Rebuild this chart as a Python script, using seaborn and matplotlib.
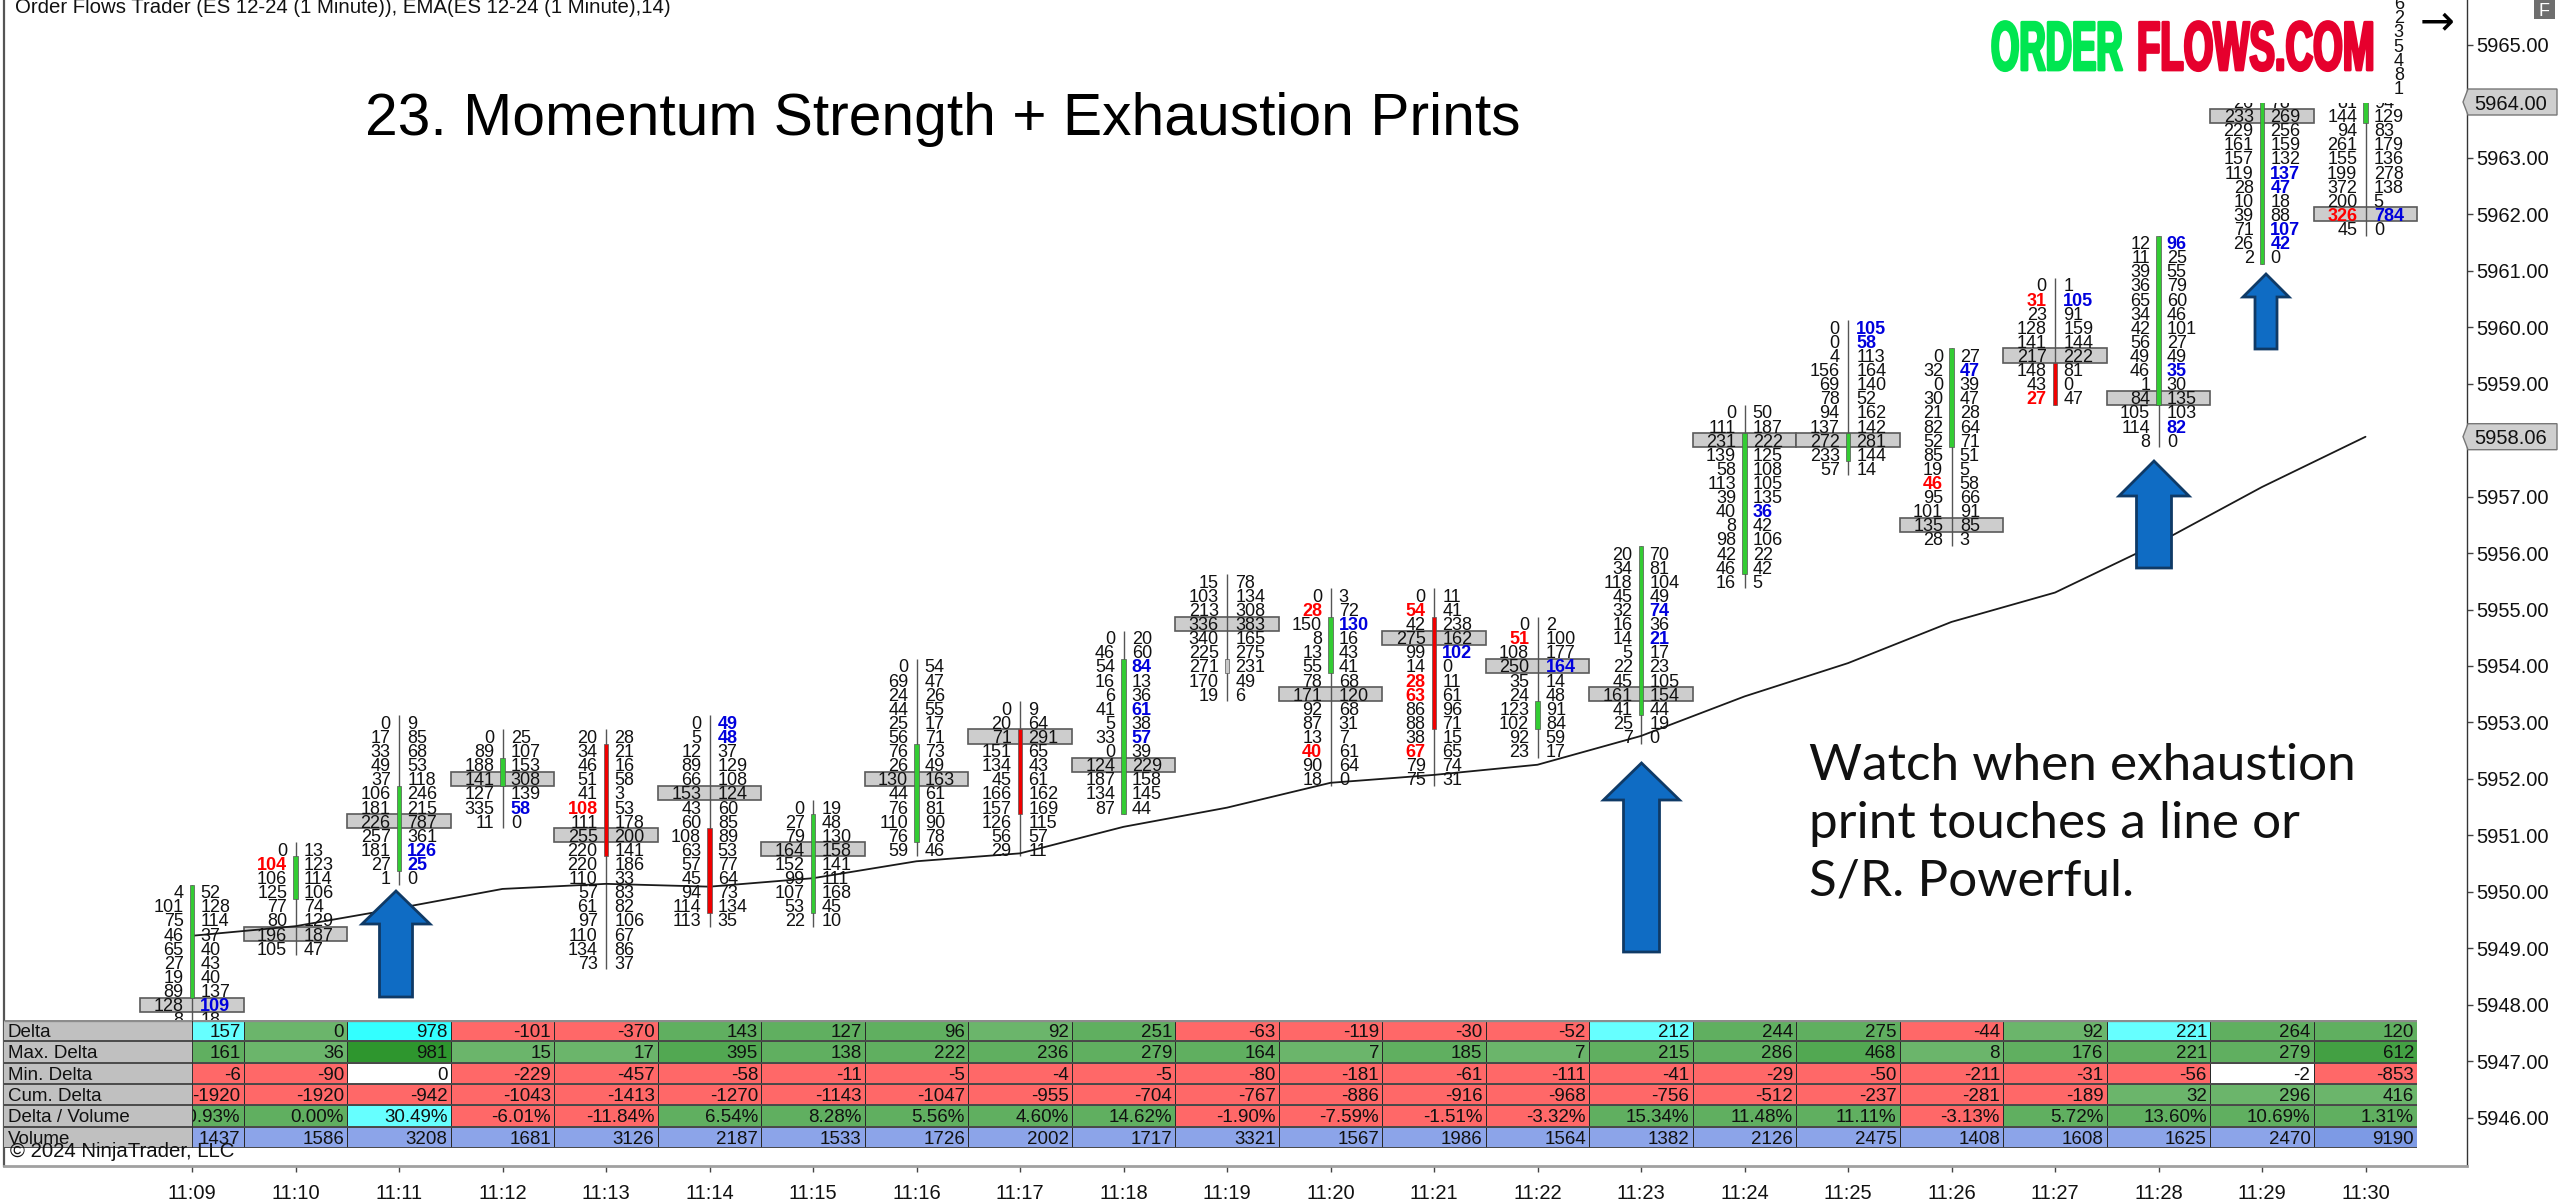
import matplotlib
matplotlib.use("Agg")
import numpy as np
import pandas as pd
import seaborn as sns
import matplotlib.pyplot as plt
from matplotlib.colors import ListedColormap
from matplotlib.patches import Polygon, Rectangle
from matplotlib.patheffects import AbstractPathEffect
from matplotlib.transforms import Affine2D

W, H = 2560, 1204

times = ["11:09", "11:10", "11:11", "11:12", "11:13", "11:14", "11:15", "11:16", "11:17", "11:18", "11:19",
         "11:20", "11:21", "11:22", "11:23", "11:24", "11:25", "11:26", "11:27", "11:28", "11:29", "11:30"]

ema = [5949.22, 5949.39, 5949.71, 5950.05, 5950.14, 5950.09, 5950.24, 5950.54, 5950.68, 5951.15, 5951.49,
       5951.93, 5952.07, 5952.25, 5952.76, 5953.46, 5954.05, 5954.78, 5955.30, 5956.18, 5957.17, 5958.06]

# price of the first row of each footprint column
bar_tops = [5950.0, 5950.75, 5953.0, 5952.75, 5952.75, 5953.0, 5951.5, 5954.0, 5953.25, 5954.5, 5955.5,
            5955.25, 5955.25, 5954.75, 5956.0, 5958.5, 5960.0, 5959.5, 5960.75, 5961.5, 5964.0, 5964.0]

bid_rows = [
    [4, 101, 75, 46, 65, 27, 19, 89, 128, 8],
    [0, 104, 106, 125, 77, 80, 196, 105],
    [0, 17, 33, 49, 37, 106, 181, 226, 257, 181, 27, 1],
    [0, 89, 188, 141, 127, 335, 11],
    [20, 34, 46, 51, 41, 108, 111, 255, 220, 220, 110, 57, 61, 97, 110, 134, 73],
    [0, 5, 12, 89, 66, 153, 43, 60, 108, 63, 57, 45, 94, 114, 113],
    [0, 27, 79, 164, 152, 99, 107, 53, 22],
    [0, 69, 24, 44, 25, 56, 76, 26, 130, 44, 76, 110, 76, 59],
    [0, 20, 71, 151, 134, 45, 166, 157, 126, 56, 29],
    [0, 46, 54, 16, 6, 41, 5, 33, 0, 124, 187, 134, 87],
    [15, 103, 213, 336, 340, 225, 271, 170, 19],
    [0, 28, 150, 8, 13, 55, 78, 171, 92, 87, 13, 40, 90, 18],
    [0, 54, 42, 275, 99, 14, 28, 63, 86, 88, 38, 67, 79, 75],
    [0, 51, 108, 250, 35, 24, 123, 102, 92, 23],
    [20, 34, 118, 45, 32, 16, 14, 5, 22, 45, 161, 41, 25, 7],
    [0, 111, 231, 139, 58, 113, 39, 40, 8, 98, 42, 46, 16],
    [0, 0, 4, 156, 69, 78, 94, 137, 272, 233, 57],
    [0, 32, 0, 30, 21, 82, 52, 85, 19, 46, 95, 101, 135, 28],
    [0, 31, 23, 128, 141, 217, 148, 43, 27],
    [12, 11, 39, 36, 65, 34, 42, 56, 49, 46, 1, 84, 105, 114, 8],
    [26, 233, 229, 161, 157, 119, 28, 10, 39, 71, 26, 2],
    [81, 144, 94, 261, 155, 199, 372, 200, 326, 45],
]
ask_rows = [
    [52, 128, 114, 37, 40, 43, 40, 137, 109, 18],
    [13, 123, 114, 106, 74, 129, 187, 47],
    [9, 85, 68, 53, 118, 246, 215, 787, 361, 126, 25, 0],
    [25, 107, 153, 308, 139, 58, 0],
    [28, 21, 16, 58, 3, 53, 178, 200, 141, 186, 33, 83, 82, 106, 67, 86, 37],
    [49, 48, 37, 129, 108, 124, 60, 85, 89, 53, 77, 64, 73, 134, 35],
    [19, 48, 130, 158, 141, 111, 168, 45, 10],
    [54, 47, 26, 55, 17, 71, 73, 49, 163, 61, 81, 90, 78, 46],
    [9, 64, 291, 65, 43, 61, 162, 169, 115, 57, 11],
    [20, 60, 84, 13, 36, 61, 38, 57, 39, 229, 158, 145, 44],
    [78, 134, 308, 383, 165, 275, 231, 49, 6],
    [3, 72, 130, 16, 43, 41, 68, 120, 68, 31, 7, 61, 64, 0],
    [11, 41, 238, 162, 102, 0, 11, 61, 96, 71, 15, 65, 74, 31],
    [2, 100, 177, 164, 14, 48, 91, 84, 59, 17],
    [70, 81, 104, 49, 74, 36, 21, 17, 23, 105, 154, 44, 19, 0],
    [50, 187, 222, 125, 108, 105, 135, 36, 42, 106, 22, 42, 5],
    [105, 58, 113, 164, 140, 52, 162, 142, 281, 144, 14],
    [27, 47, 39, 47, 28, 64, 71, 51, 5, 58, 66, 91, 85, 3],
    [1, 105, 91, 159, 144, 222, 81, 0, 47],
    [96, 25, 55, 79, 60, 46, 101, 27, 49, 35, 30, 135, 103, 82, 0],
    [78, 269, 256, 159, 132, 137, 47, 18, 88, 107, 42, 0],
    [94, 129, 83, 179, 136, 278, 138, 5, 784, 0],
]
poc_index = [8, 6, 7, 3, 7, 5, 3, 8, 2, 9, 3, 7, 3, 3, 10, 2, 8, 12, 5, 11, 1, 8]

# row indexes printed bold
red_marks = [[], [1], [], [], [5], [], [], [], [], [], [], [1, 11], [1, 6, 7, 11], [1], [], [], [], [9], [1, 8], [], [], [8]]
blue_marks = [[8], [], [9, 10], [5], [], [0, 1], [], [], [], [2, 5, 7], [], [2], [4], [3], [4, 6], [7], [0, 1], [1], [1], [0, 9, 13],
              [5, 6, 9, 10], [8]]

body_high = [5950.0, 5950.5, 5951.75, 5952.25, 5952.5, 5951.0, 5951.25, 5952.5, 5952.75, 5954.0, 5954.0,
             5954.75, 5954.75, 5953.25, 5956.0, 5958.0, 5958.0, 5959.5, 5959.25, 5961.5, 5964.0, 5964.25]
body_low = [5948.25, 5950.0, 5950.5, 5952.0, 5950.75, 5949.75, 5949.75, 5951.0, 5951.5, 5951.5, 5954.0,
            5954.0, 5953.0, 5953.0, 5953.25, 5955.75, 5957.75, 5958.0, 5958.75, 5958.75, 5961.25, 5963.75]
body_kind = ["g", "g", "g", "g", "r", "r", "g", "g", "r", "g", "n", "g", "r", "g", "g", "g", "g", "g", "r", "g", "g", "g"]

# last digits of the column that runs under the logo
clipped_digits = ["1", "8", "4", "5", "3", "2", "6"]
clipped_prices = [5964.25, 5964.5, 5964.75, 5965.0, 5965.25, 5965.5, 5965.75]

row_names = ["Delta", "Max. Delta", "Min. Delta", "Cum. Delta", "Delta / Volume", "Volume"]
delta = [157, 0, 978, -101, -370, 143, 127, 96, 92, 251, -63, -119, -30, -52, 212, 244, 275, -44, 92, 221, 264, 120]
max_delta = [161, 36, 981, 15, 17, 395, 138, 222, 236, 279, 164, 7, 185, 7, 215, 286, 468, 8, 176, 221, 279, 612]
min_delta = [-6, -90, 0, -229, -457, -58, -11, -5, -4, -5, -80, -181, -61, -111, -41, -29, -50, -211, -31, -56, -2, -853]
cum_delta = [-1920, -1920, -942, -1043, -1413, -1270, -1143, -1047, -955, -704, -767, -886, -916, -968, -756, -512, -237,
             -281, -189, 32, 296, 416]
delta_volume = [10.93, 0.00, 30.49, -6.01, -11.84, 6.54, 8.28, 5.56, 4.60, 14.62, -1.90, -7.59, -1.51, -3.32, 15.34,
                11.48, 11.11, -3.13, 5.72, 13.60, 10.69, 1.31]
volume = [1437, 1586, 3208, 1681, 3126, 2187, 1533, 1726, 2002, 1717, 3321, 1567, 1986, 1564, 1382, 2126, 2475, 1408,
          1608, 1625, 2470, 9190]

cell_palette = ["#FFFFFF", "#FF6868", "#6BB56B", "#60AF60", "#52A852", "#43A043", "#2E962E", "#66FFFF", "#33FFFF",
                "#8CA4E9", "#7D9AE5"]
delta_shade = [7, 2, 8, 1, 1, 3, 3, 3, 2, 3, 1, 1, 1, 1, 7, 3, 3, 1, 2, 7, 3, 3]
max_shade = [3, 2, 6, 2, 2, 4, 3, 3, 3, 3, 3, 2, 3, 2, 3, 3, 4, 2, 3, 3, 3, 5]
min_shade = [1, 1, 0, 1, 1, 1, 1, 1, 1, 1, 1, 1, 1, 1, 1, 1, 1, 1, 1, 1, 0, 1]
cum_shade = [1, 1, 1, 1, 1, 1, 1, 1, 1, 1, 1, 1, 1, 1, 1, 1, 1, 1, 1, 2, 2, 2]
dv_shade = [3, 3, 7, 1, 1, 3, 3, 3, 3, 3, 1, 1, 1, 1, 3, 3, 3, 1, 3, 3, 3, 3]
volume_shade = [9, 9, 9, 9, 9, 9, 9, 9, 9, 9, 9, 9, 9, 9, 9, 9, 9, 9, 9, 9, 9, 10]

y_ticks = [5946, 5947, 5948, 5949, 5950, 5951, 5952, 5953, 5954, 5955, 5956, 5957, 5959, 5960, 5961, 5962, 5963, 5965]


class Squeeze(AbstractPathEffect):
    # keeps the text real but draws it narrower, like the pasted logo
    def __init__(self, sx, sy, stroke):
        super().__init__()
        self.sx, self.sy, self.stroke = sx, sy, stroke

    def draw_path(self, renderer, gc, tpath, affine, rgbFace=None):
        gc0 = renderer.new_gc()
        gc0.copy_properties(gc)
        gc0.set_linewidth(self.stroke)
        renderer.draw_path(gc0, tpath, Affine2D().scale(self.sx, self.sy) + affine, rgbFace)
        gc0.restore()


sns.set_theme(style="white")
plt.rcParams["font.family"] = ["Liberation Sans", "DejaVu Sans"]

fig = plt.figure(figsize=(W / 100, H / 100), dpi=100, facecolor="white")
pix = Affine2D().scale(1, -1).translate(0, H)

# main price panel
ax = fig.add_axes([4 / W, (H - 1166) / H, (2467 - 4) / W, 1166 / H], facecolor="white")
ax.set_xlim((4 - 192) / 103.5, (2467 - 192) / 103.5)
ax.set_ylim(5965 - (1166 - 45) / 56.45, 5965 + 45 / 56.45)

for i in range(len(times)):
    n = len(bid_rows[i])
    prices = [bar_tops[i] - 0.25 * k for k in range(n)]
    ax.vlines(i, prices[-1] - 0.125, prices[0] + 0.125, color="#555555", lw=1, zorder=2)
    poc = prices[poc_index[i]]
    ax.add_patch(Rectangle((i - 0.5, poc - 0.125), 1, 0.25, facecolor="#CDCDCD", edgecolor="#5A5A5A", lw=1.2, zorder=1))
    for k in range(n):
        bid_bold, ask_bold = k in red_marks[i], k in blue_marks[i]
        ax.text(i - 0.08, prices[k], str(bid_rows[i][k]), ha="right", va="center_baseline", fontsize=13,
                color="#FF0000" if bid_bold else "#111111", fontweight="bold" if bid_bold else "normal", zorder=4, clip_on=True)
        ax.text(i + 0.08, prices[k], str(ask_rows[i][k]), ha="left", va="center_baseline", fontsize=13,
                color="#0000DD" if ask_bold else "#111111", fontweight="bold" if ask_bold else "normal", zorder=4, clip_on=True)

kind_colors = {"g": "#33CC33", "r": "#F00000", "n": "#C8C8C8"}
ax.bar(range(len(times)), np.array(body_high) - np.array(body_low) + 0.25, bottom=np.array(body_low) - 0.125, width=0.04,
       color=[kind_colors[k] for k in body_kind], edgecolor="#555555", linewidth=0.5, zorder=3)

for digit, price in zip(clipped_digits, clipped_prices):
    ax.text(21 + 0.37, price, digit, ha="right", va="center_baseline", fontsize=13, color="#111111", zorder=4, clip_on=True)

ema_frame = pd.DataFrame({"bar": range(len(times)), "ema": ema})
sns.lineplot(data=ema_frame, x="bar", y="ema", color="#1A1A1A", linewidth=1.3, ax=ax, zorder=2.5)

ax.set_xlabel("")
ax.set_ylabel("")
ax.set_xticks(range(len(times)))
ax.set_xticklabels(times, color="#111111")
ax.yaxis.tick_right()
ax.set_yticks(y_ticks)
ax.set_yticklabels(["%.2f" % v for v in y_ticks], color="#111111")
ax.tick_params(axis="x", bottom=True, length=4, width=1, color="#444444", pad=9, labelsize=14.5)
ax.tick_params(axis="y", right=True, length=4, width=1, color="#444444", pad=3, labelsize=14.5)
ax.spines["top"].set_visible(False)
ax.spines["left"].set_color("#555555")
ax.spines["left"].set_linewidth(1.6)
ax.spines["right"].set_color("#333333")
ax.spines["right"].set_linewidth(1)
ax.spines["bottom"].set_color("#A0A0A0")
ax.spines["bottom"].set_linewidth(2)

# indicator table under the chart
tab = fig.add_axes([4 / W, (H - 1148) / H, (2417 - 4) / W, 128 / H])
shades = np.array([delta_shade, max_shade, min_shade, cum_shade, dv_shade, volume_shade])
sns.heatmap(shades, cmap=ListedColormap(cell_palette), vmin=0, vmax=len(cell_palette) - 1, cbar=False, linewidths=0.7,
            linecolor="#2A2A2A", xticklabels=False, yticklabels=False, ax=tab)
tab.set_xlim((4 - 140.25) / 103.5, 22)
tab.set_ylim(6, 0)

row_texts = [[str(v) for v in delta], [str(v) for v in max_delta], [str(v) for v in min_delta], [str(v) for v in cum_delta],
             ["%.2f%%" % v for v in delta_volume], [str(v) for v in volume]]
for r, texts in enumerate(row_texts):
    for c, label in enumerate(texts):
        tab.text(c + 0.97, r + 0.5, label, ha="right", va="center_baseline", fontsize=13.5, color="#111111", zorder=4, clip_on=True)

tab.add_patch(Rectangle(((4 - 140.25) / 103.5, 0), (192 - 4) / 103.5, 6, facecolor="#C0C0C0", edgecolor="none", zorder=5))
for r, name in enumerate(row_names):
    tab.text((8 - 140.25) / 103.5, r + 0.5, name, ha="left", va="center_baseline", fontsize=13.5, color="#111111", zorder=6)
tab.hlines(range(0, 7), (4 - 140.25) / 103.5, 22, color="#4A4A4A", lw=1.4, zorder=7)
tab.hlines(0, (4 - 140.25) / 103.5, 22, color="#8C8C8C", lw=2.4, zorder=7)
tab.vlines(0.5, 0, 6, color="#333333", lw=0.7, zorder=7)

# white patch of the pasted logo hides the top of the last columns
fig.add_artist(Rectangle((1900, 0), 493, 103, transform=pix, facecolor="white", edgecolor="none", zorder=10))
fig.text(1991, 70, "ORDER", transform=pix, fontsize=50, fontweight="bold", color="#00E650", ha="left", va="baseline", zorder=11,
         path_effects=[Squeeze(0.525, 1.0, 2)])
fig.text(2137, 70, "FLOWS.COM", transform=pix, fontsize=50, fontweight="bold", color="#E6002D", ha="left", va="baseline", zorder=11,
         path_effects=[Squeeze(0.55, 1.0, 2)])

fig.text(15, 13, "Order Flows Trader (ES 12-24 (1 Minute)), EMA(ES 12-24 (1 Minute),14)", transform=pix, fontsize=14.7,
         color="#111111", ha="left", va="baseline", zorder=11)
fig.text(365, 135, "23. Momentum Strength + Exhaustion Prints", transform=pix, fontsize=42.3, color="black", ha="left",
         va="baseline", zorder=11)
for text_y, line in zip([780, 838, 896], ["Watch when exhaustion", "print touches a line or", "S/R. Powerful."]):
    fig.text(1809, text_y, line, transform=pix, family="Lato", fontsize=36.9, color="#111111", ha="left", va="baseline", zorder=11)
fig.text(10, 1157, "© 2024 NinjaTrader, LLC", transform=pix, fontsize=14.7, color="#111111", ha="left", va="baseline", zorder=11)

# blue up arrows: centre, tip, head base, tail, head half width, shaft half width
arrow_specs = [(396, 891, 924, 997, 34, 16.5), (1641.5, 763, 800, 952, 38, 18), (2154, 461, 496, 568, 35, 17.5), (2266, 274, 297, 349, 23, 11)]
for cx, tip, base, tail, head, shaft in arrow_specs:
    pts = [(cx, tip), (cx + head, base), (cx + shaft, base), (cx + shaft, tail), (cx - shaft, tail), (cx - shaft, base), (cx - head, base)]
    fig.add_artist(Polygon(pts, closed=True, transform=pix, facecolor="#0F6CC4", edgecolor="#0F3A66", lw=2, zorder=9))

# price markers on the right scale
for mark_y, label in zip([102, 436.7], ["5964.00", "5958.06"]):
    pts = [(2463, mark_y), (2468, mark_y - 13), (2557, mark_y - 13), (2557, mark_y + 13), (2468, mark_y + 13)]
    fig.add_artist(Polygon(pts, closed=True, transform=pix, facecolor="#CFCFCF", edgecolor="#777777", lw=1, zorder=9))
    fig.text(2474, mark_y, label, transform=pix, fontsize=14.5, color="#111111", ha="left", va="center_baseline", zorder=11)

fig.add_artist(Rectangle((2534, 0), 21, 19, transform=pix, facecolor="#6E6E6E", edgecolor="none", zorder=9))
fig.text(2544.5, 10, "F", transform=pix, fontsize=13, color="white", ha="center", va="center_baseline", zorder=11)
fig.text(2437, 18, "→", transform=pix, family="DejaVu Sans", fontsize=30, color="black", ha="center", va="center_baseline", zorder=11)

fig.savefig("out.png", dpi=100)
